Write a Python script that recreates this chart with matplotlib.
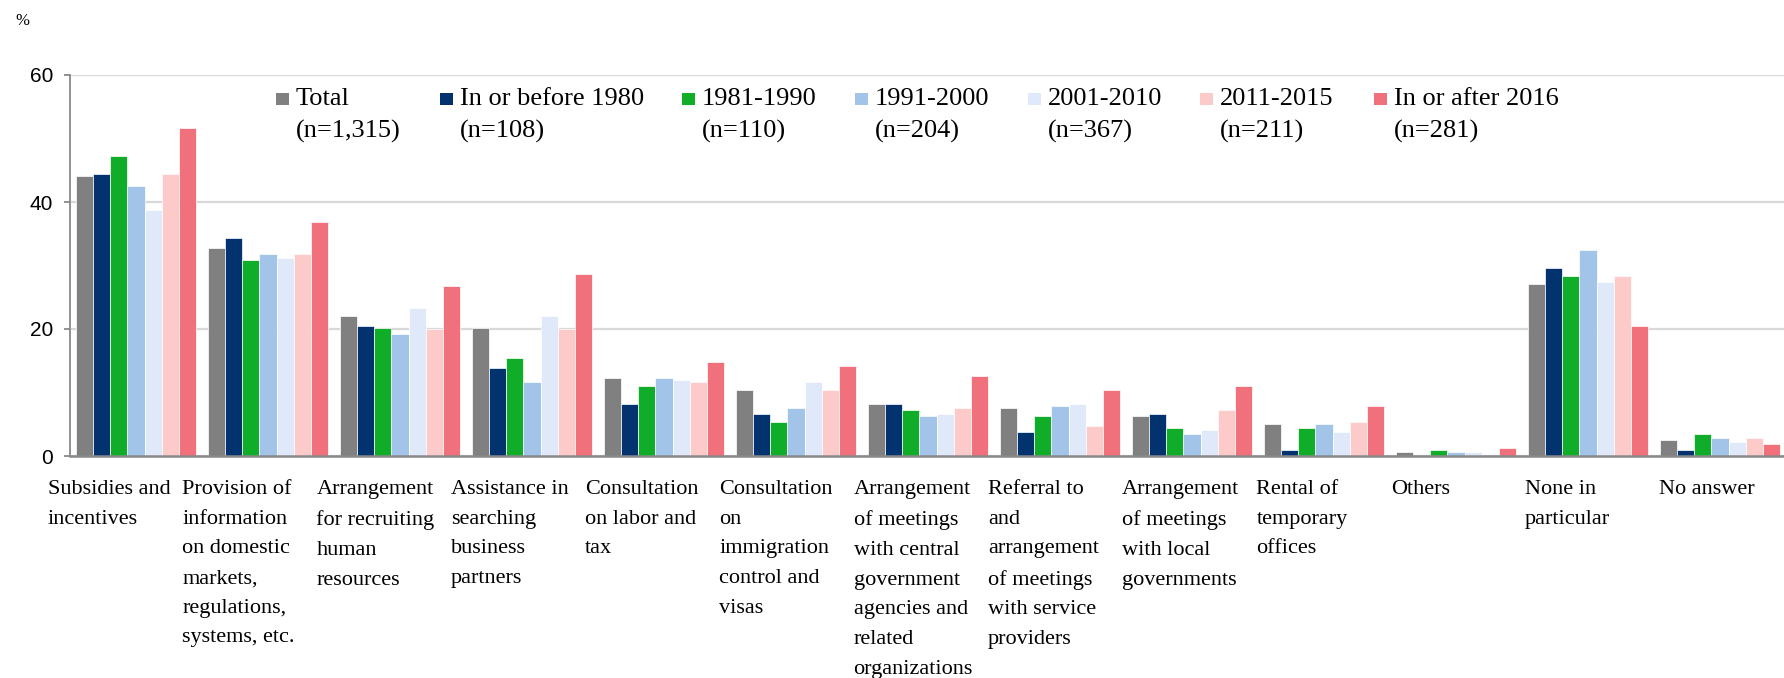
import matplotlib
matplotlib.use('Agg')
import matplotlib.pyplot as plt
import numpy as np
from matplotlib.patches import Rectangle

# ── Data ──────────────────────────────────────────────────────────────────
categories = [
    'Subsidies and\nincentives',
    'Provision of\ninformation\non domestic\nmarkets,\nregulations,\nsystems, etc.',
    'Arrangement\nfor recruiting\nhuman\nresources',
    'Assistance in\nsearching\nbusiness\npartners',
    'Consultation\non labor and\ntax',
    'Consultation\non\nimmigration\ncontrol and\nvisas',
    'Arrangement\nof meetings\nwith central\ngovernment\nagencies and\nrelated\norganizations',
    'Referral to\nand\narrangement\nof meetings\nwith service\nproviders',
    'Arrangement\nof meetings\nwith local\ngovernments',
    'Rental of\ntemporary\noffices',
    'Others',
    'None in\nparticular',
    'No answer',
]

series_names = ['Total', 'In or before 1980', '1981-1990', '1991-2000',
                '2001-2010', '2011-2015', 'In or after 2016']
series_n = ['(n=1,315)', '(n=108)', '(n=110)', '(n=204)',
            '(n=367)', '(n=211)', '(n=281)']

total     = [44.1, 32.8, 22.0, 20.2, 12.3, 10.4, 8.2, 7.6, 6.3, 5.0, 0.6, 27.1, 2.5]
before80  = [44.4, 34.3, 20.5, 13.9, 8.2, 6.6, 8.2, 3.8, 6.6, 0.9, 0.0, 29.6, 0.9]
y1981_90  = [47.2, 30.9, 20.2, 15.4, 11.0, 5.4, 7.2, 6.3, 4.4, 4.4, 0.9, 28.3, 3.5]
y1991_00  = [42.5, 31.8, 19.2, 11.7, 12.3, 7.6, 6.3, 7.9, 3.5, 5.0, 0.6, 32.4, 2.8]
y2001_10  = [38.7, 31.2, 23.3, 22.0, 12.0, 11.7, 6.6, 8.2, 4.1, 3.8, 0.6, 27.4, 2.2]
y2011_15  = [44.4, 31.8, 20.0, 20.0, 11.7, 10.4, 7.6, 4.7, 7.2, 5.4, 0.0, 28.3, 2.8]
after2016 = [51.7, 36.9, 26.8, 28.7, 14.8, 14.2, 12.6, 10.4, 11.0, 7.9, 1.3, 20.5, 1.9]

series = [total, before80, y1981_90, y1991_00, y2001_10, y2011_15, after2016]
colors = ['#808080', '#02336F', '#10AE28', '#A1C4E8', '#E0E9FA', '#FDCACA', '#F0707C']

# ── Figure ────────────────────────────────────────────────────────────────
W, H = 1784, 678
fig = plt.figure(figsize=(W / 100, H / 100), dpi=100)
fig.patch.set_facecolor('white')

ax_l, ax_r, ax_t, ax_b = 70, 1786, 75, 456
ax = fig.add_axes([ax_l / W, 1 - ax_b / H, (ax_r - ax_l) / W, (ax_b - ax_t) / H])

x = np.arange(len(categories))
bw = 0.129
for k, (vals, c) in enumerate(zip(series, colors)):
    ax.bar(x + (k - 3) * bw, vals, width=bw, color=c,
           edgecolor='white', linewidth=0.5, zorder=3)

ax.set_xlim(-0.5, len(categories) - 0.5)
ax.set_ylim(0, 60)
ax.set_yticks([0, 20, 40, 60])
ax.yaxis.grid(True, color='#D9D9D9', lw=1.6, zorder=0)
ax.set_axisbelow(True)
ax.set_xticks([])
for s in ['top', 'right']:
    ax.spines[s].set_visible(False)
ax.spines['left'].set_color('#898989')
ax.spines['left'].set_linewidth(1.3)
ax.spines['bottom'].set_color('#898989')
ax.spines['bottom'].set_linewidth(1.8)
ax.spines['bottom'].set_zorder(4)
ax.tick_params(axis='y', length=4, width=1.3, color='#898989', labelsize=15, pad=8)
for lab in ax.get_yticklabels():
    lab.set_fontfamily('Liberation Sans')

# category labels (left aligned under each group, Excel spacing slightly wider)
for i, cat in enumerate(categories):
    ax.text(-0.668 + i * 1.0174, -3.8, cat, ha='left', va='top',
            fontsize=16, fontfamily='Liberation Serif', linespacing=1.76,
            clip_on=False)

# unit
fig.text(15 / W, 1 - 21 / H, '%', fontsize=12, fontfamily='Liberation Serif',
         ha='left', va='center')

# legend (manual)
leg_x = [276, 440, 682, 855, 1028, 1200, 1374]
for sx, name, n, c in zip(leg_x, series_names, series_n, colors):
    fig.patches.append(Rectangle((sx / W, 1 - 105 / H), 13 / W, 12 / H,
                                 transform=fig.transFigure, facecolor=c,
                                 edgecolor='none'))
    fig.text((sx + 20) / W, 1 - 99 / H, name, fontsize=19,
             fontfamily='Liberation Serif', ha='left', va='center')
    fig.text((sx + 20) / W, 1 - 131 / H, n, fontsize=19,
             fontfamily='Liberation Serif', ha='left', va='center')

plt.savefig('out.png', dpi=100, facecolor='white')
